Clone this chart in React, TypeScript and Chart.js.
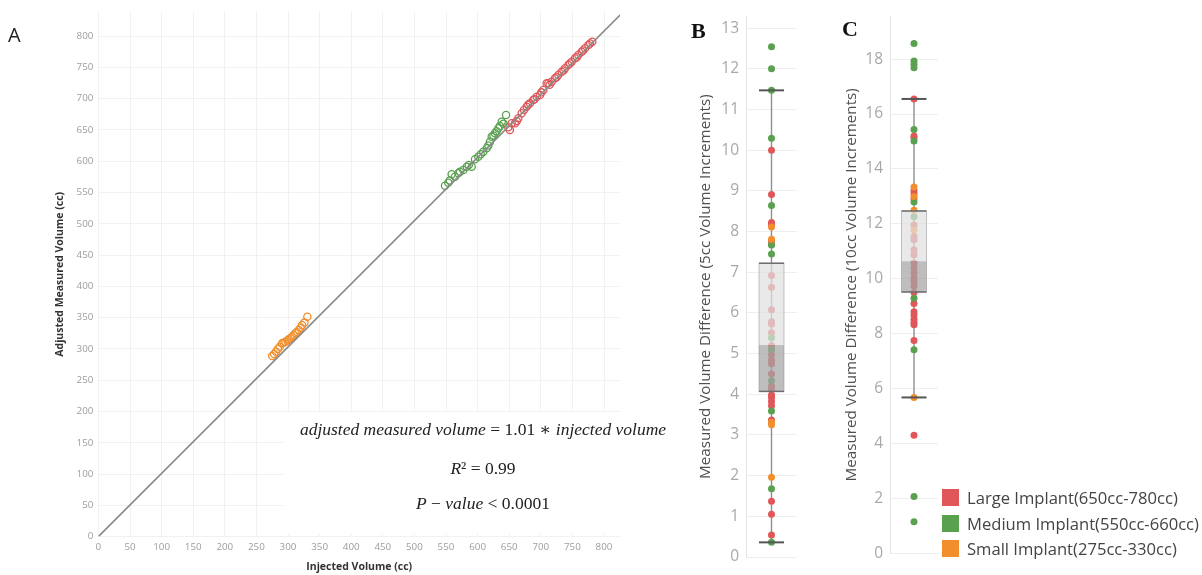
import React, { useEffect, useRef } from 'react';
import { Chart, registerables } from 'chart.js';

Chart.register(...registerables);

const FONT = "'Open Sans', 'Noto Sans', sans-serif";

// ---------- shared legend ----------
const SERIES_NAMES = ['Large Implant(650cc-780cc)', 'Medium Implant(550cc-660cc)', 'Small Implant(275cc-330cc)'];
const SERIES_COLORS = ['#e15759', '#59a14f', '#f28e2b'];

// ---------- Panel A: adjusted measured vs injected ----------
const A_LARGE_X = [648.6, 651, 654, 659.2, 662, 664.4, 669.8, 673.4, 677.7, 680, 682.9, 688.1, 690, 693.5, 698.7, 701, 704, 709.3, 711.9, 714, 717.2, 722.5, 725, 727.7, 733.1, 736, 738.3, 743.5, 746, 748.9, 754.1, 757, 759.3, 764.7, 767, 770, 775.2, 778, 781.5];
const A_LARGE_Y = [654.1, 650, 660.5, 660.5, 664, 668.5, 676.5, 681.8, 687.1, 690, 692.5, 697.8, 699, 703.1, 705.8, 710, 713.8, 724.5, 724.5, 722, 727, 732.5, 734, 737.7, 743, 745, 748.4, 753.7, 756, 759, 764.4, 766, 769.7, 775, 777, 780.4, 785.7, 788, 791];
const A_MEDIUM_X = [548.4, 553.6, 556, 559, 564.2, 569.5, 572, 577.4, 582.8, 586, 590.7, 595.9, 601.1, 605, 609, 614.4, 617, 619.6, 622.3, 625, 627.5, 630, 632.8, 635.4, 638.1, 641, 645];
const A_MEDIUM_Y = [560.8, 565.6, 569, 579, 575.2, 580.6, 583, 585.9, 591.2, 594, 591.2, 603, 607.2, 611, 615.1, 620.6, 625, 631.1, 639.1, 641, 644.6, 648, 652.6, 656.2, 663.1, 660, 673.8];
const A_SMALL_X = [275, 278, 281, 284, 287, 290.6, 293, 296, 299, 301, 304, 306.5, 309, 311.8, 314, 317, 320, 322.3, 326, 330.6];
const A_SMALL_Y = [288.6, 292, 295.5, 300, 303.5, 308.9, 310, 311.5, 313, 315.3, 317, 319.5, 322, 324.9, 327, 330.2, 334, 338.2, 342, 351.5];
const A_TICKS = [0, 50, 100, 150, 200, 250, 300, 350, 400, 450, 500, 550, 600, 650, 700, 750, 800];
const A_FIT_SLOPE = 1.01;
const A_FIT_X = [0, 830];

// ---------- Panel B: 5cc increments ----------
const B_LARGE = [10.0, 8.91, 8.22, 8.17, 7.77, 7.69, 6.92, 6.63, 6.08, 5.78, 5.73, 5.51, 5.2, 4.98, 4.84, 4.75, 4.5, 4.2, 4.12, 3.98, 3.92, 3.82, 3.72, 3.37, 1.37, 1.05, 0.54];
const B_MEDIUM = [12.54, 12.0, 11.47, 10.29, 8.64, 7.67, 7.45, 5.39, 5.1, 4.33, 3.59, 1.68, 0.36];
const B_SMALL = [8.11, 7.81, 3.31, 3.25, 1.96];
const B_BOX = [0.36, 4.07, 5.21, 7.22, 11.47]; // low whisker, Q1, median, Q3, high whisker
const B_TICKS = [0, 1, 2, 3, 4, 5, 6, 7, 8, 9, 10, 11, 12, 13];

// ---------- Panel C: 10cc increments ----------
const C_LARGE = [16.55, 15.2, 15.14, 13.22, 13.1, 12.92, 11.96, 11.54, 11.42, 11.06, 10.88, 10.58, 10.4, 10.22, 10.04, 9.92, 9.74, 9.5, 9.1, 8.8, 8.68, 8.53, 8.41, 8.33, 7.75, 4.3];
const C_MEDIUM = [18.57, 17.93, 17.81, 17.69, 15.44, 15.02, 12.8, 12.26, 9.29, 7.42, 2.07, 1.15];
const C_SMALL = [13.34, 13.0, 12.5, 11.78, 5.68];
const C_BOX = [5.68, 9.52, 10.64, 12.47, 16.55];
const C_TICKS = [0, 2, 4, 6, 8, 10, 12, 14, 16, 18];

const pairs = (xs: number[], ys: number[]) => xs.map((x, i) => ({ x, y: ys[i] }));
const column = (ys: number[]) => ys.map((y) => ({ x: 0.5, y }));

function makeBoxPlugin(stats: number[]) {
  return {
    id: 'boxWhisker',
    beforeDatasetsDraw(chart: any) {
      const { ctx, scales } = chart;
      const cx = scales.x.getPixelForValue(0.5);
      const y = scales.y;
      ctx.save();
      ctx.strokeStyle = '#8f8f8f';
      ctx.lineWidth = 1.4;
      ctx.beginPath();
      ctx.moveTo(cx, y.getPixelForValue(stats[0]));
      ctx.lineTo(cx, y.getPixelForValue(stats[4]));
      ctx.stroke();
      ctx.restore();
    },
    afterDatasetsDraw(chart: any) {
      const { ctx, scales } = chart;
      const cx = scales.x.getPixelForValue(0.5);
      const y = scales.y;
      const hw = 12.5;
      const [lo, q1, med, q3, hi] = stats.map((v) => y.getPixelForValue(v));
      ctx.save();
      ctx.fillStyle = 'rgba(224,224,224,0.72)';
      ctx.fillRect(cx - hw, q3, 2 * hw, med - q3);
      ctx.fillStyle = 'rgba(165,165,165,0.72)';
      ctx.fillRect(cx - hw, med, 2 * hw, q1 - med);
      ctx.strokeStyle = 'rgba(140,140,140,0.5)';
      ctx.lineWidth = 1;
      ctx.strokeRect(cx - hw, q3, 2 * hw, q1 - q3);
      ctx.strokeStyle = '#6e6e6e';
      ctx.lineWidth = 1.5;
      [q3, q1].forEach((yy) => {
        ctx.beginPath();
        ctx.moveTo(cx - hw, yy);
        ctx.lineTo(cx + hw, yy);
        ctx.stroke();
      });
      ctx.strokeStyle = '#555555';
      ctx.lineWidth = 2;
      [lo, hi].forEach((yy) => {
        ctx.beginPath();
        ctx.moveTo(cx - hw, yy);
        ctx.lineTo(cx + hw, yy);
        ctx.stroke();
      });
      ctx.restore();
    },
  };
}

function boxChartConfig(
  large: number[], medium: number[], small: number[], stats: number[], ticks: number[],
  yMax: number, yWidth: number, pad: any, title: string, titlePad: number
): any {
  const mk = (data: number[], color: string) => ({
    data: column(data),
    backgroundColor: color,
    borderWidth: 0,
    pointRadius: 3.5,
  });
  return {
    type: 'scatter',
    data: {
      datasets: [mk(small, SERIES_COLORS[2]), mk(medium, SERIES_COLORS[1]), mk(large, SERIES_COLORS[0])],
    },
    options: {
      animation: false,
      responsive: false,
      events: [],
      layout: { padding: pad },
      plugins: { legend: { display: false }, tooltip: { enabled: false } },
      scales: {
        x: { type: 'linear', min: 0, max: 1, display: false },
        y: {
          type: 'linear',
          min: 0,
          max: yMax,
          afterBuildTicks: (s: any) => { s.ticks = ticks.map((v) => ({ value: v })); },
          afterFit: (s: any) => { s.width = yWidth; },
          ticks: { color: '#a8a8a8', font: { family: FONT, size: 15.5 }, padding: 7 },
          grid: { color: '#eeeeee', drawTicks: false },
          border: { color: '#e4e4e4' },
          title: {
            display: true,
            text: title,
            color: '#505050',
            font: { family: FONT, size: 15.2 },
            padding: { top: titlePad, bottom: 0 },
          },
        },
      },
    },
    plugins: [makeBoxPlugin(stats)],
  };
}

export default function App() {
  const aRef = useRef<HTMLCanvasElement>(null);
  const bRef = useRef<HTMLCanvasElement>(null);
  const cRef = useRef<HTMLCanvasElement>(null);

  useEffect(() => {
    document.body.style.margin = '0';
    const fitData = A_FIT_X.map((x) => ({ x, y: A_FIT_SLOPE * x }));
    const ring = (xs: number[], ys: number[], color: string) => ({
      type: 'scatter',
      data: pairs(xs, ys),
      borderColor: color,
      backgroundColor: 'rgba(255,255,255,0)',
      borderWidth: 1.3,
      pointRadius: 3.6,
      order: 1,
    });
    const chartA = new Chart(aRef.current!, {
      type: 'scatter',
      data: {
        datasets: [
          {
            type: 'line',
            data: fitData,
            borderColor: '#8a8a8a',
            borderWidth: 1.6,
            pointRadius: 0,
            fill: false,
            order: 0,
          } as any,
          ring(A_SMALL_X, A_SMALL_Y, SERIES_COLORS[2]) as any,
          ring(A_MEDIUM_X, A_MEDIUM_Y, SERIES_COLORS[1]) as any,
          ring(A_LARGE_X, A_LARGE_Y, SERIES_COLORS[0]) as any,
        ],
      },
      options: {
        animation: false,
        responsive: false,
        events: [],
        layout: { padding: { left: 0, right: 20, top: 12, bottom: 0 } },
        plugins: { legend: { display: false }, tooltip: { enabled: false } },
        scales: {
          x: {
            type: 'linear',
            min: 0,
            max: 825.3,
            afterBuildTicks: (s: any) => { s.ticks = A_TICKS.map((v) => ({ value: v })); },
            afterFit: (s: any) => { s.height = 38.4; },
            ticks: { color: '#9d9d9d', font: { family: FONT, size: 9.8 }, padding: 5, maxRotation: 0 },
            grid: { color: '#f1f1f1', drawTicks: false },
            border: { color: '#f1f1f1' },
            title: {
              display: true,
              text: 'Injected Volume (cc)',
              color: '#333333',
              font: { family: FONT, size: 10.5, weight: 'bold' },
              padding: { top: 0, bottom: 2 },
            },
          },
          y: {
            type: 'linear',
            min: 0,
            max: 838.4,
            afterBuildTicks: (s: any) => { s.ticks = A_TICKS.map((v) => ({ value: v })); },
            afterFit: (s: any) => { s.width = 98.4; },
            ticks: { color: '#9d9d9d', font: { family: FONT, size: 9.8 }, padding: 5 },
            grid: { color: '#f1f1f1', drawTicks: false },
            border: { color: '#f1f1f1' },
            title: {
              display: true,
              text: 'Adjusted Measured Volume (cc)',
              color: '#333333',
              font: { family: FONT, size: 10.5, weight: 'bold' },
              padding: { top: 54, bottom: 0 },
            },
          },
        },
      },
    } as any);

    const chartB = new Chart(
      bRef.current!,
      boxChartConfig(B_LARGE, B_MEDIUM, B_SMALL, B_BOX, B_TICKS, 13.29, 66, { left: 0, right: 8, top: 15, bottom: 18 },
        'Measured Volume Difference (5cc Volume Increments)', 17)
    );
    const chartC = new Chart(
      cRef.current!,
      boxChartConfig(C_LARGE, C_MEDIUM, C_SMALL, C_BOX, C_TICKS, 19.56, 70, { left: 0, right: 7, top: 11.7, bottom: 21.6 },
        'Measured Volume Difference (10cc Volume Increments)', 22.7)
    );
    return () => {
      chartA.destroy();
      chartB.destroy();
      chartC.destroy();
    };
  }, []);

  const serif = "'Liberation Serif', 'DejaVu Serif', serif";
  const eqLine = (top: number): React.CSSProperties => ({
    position: 'absolute', left: 283, top, width: 400, textAlign: 'center',
    fontFamily: serif, fontSize: 17.5, lineHeight: '17.5px', color: '#222', whiteSpace: 'nowrap',
  });

  return (
    <div style={{ position: 'fixed', left: 0, top: 0, width: 1202, height: 575, background: '#fff', overflow: 'hidden' }}>
      <canvas ref={aRef} width={640} height={575} style={{ position: 'absolute', left: 0, top: 0, width: 640, height: 575 }} />
      <div style={{ position: 'absolute', left: 283, top: 412, width: 390, height: 122, background: '#fff' }} />
      <div style={eqLine(421.3)}>
        <i>adjusted measured volume</i> = 1.01 ∗ <i>injected volume</i>
      </div>
      <div style={eqLine(459.6)}>
        <i>R</i>² = 0.99
      </div>
      <div style={eqLine(495.3)}>
        <i>P</i> − <i>value</i> &lt; 0.0001
      </div>
      <canvas ref={bRef} width={125} height={575} style={{ position: 'absolute', left: 680, top: 0, width: 125, height: 575 }} />
      <canvas ref={cRef} width={125} height={575} style={{ position: 'absolute', left: 820, top: 0, width: 125, height: 575 }} />
      <div style={{ position: 'absolute', left: 8, top: 25, fontFamily: FONT, fontSize: 20, lineHeight: '20px', color: '#222' }}>A</div>
      <div style={{ position: 'absolute', left: 691, top: 19.6, fontFamily: serif, fontWeight: 'bold', fontSize: 22, lineHeight: '22px', color: '#111' }}>B</div>
      <div style={{ position: 'absolute', left: 842, top: 18.3, fontFamily: serif, fontWeight: 'bold', fontSize: 22, lineHeight: '22px', color: '#111' }}>C</div>
      {SERIES_NAMES.map((name, i) => (
        <div key={name} style={{ position: 'absolute', left: 942, top: 489 + i * 25.5, height: 17, display: 'flex', alignItems: 'center', whiteSpace: 'nowrap' }}>
          <div style={{ width: 17, height: 17, background: SERIES_COLORS[i], marginRight: 8, flexShrink: 0 }} />
          <span style={{ fontFamily: FONT, fontSize: 16.6, color: '#444' }}>{name}</span>
        </div>
      ))}
    </div>
  );
}
